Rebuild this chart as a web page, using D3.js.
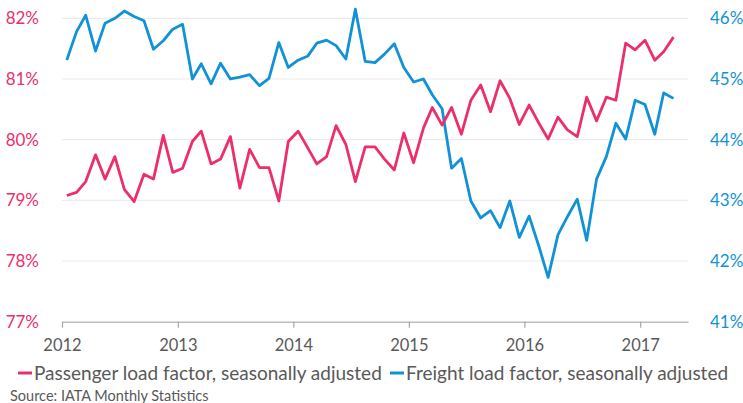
<!DOCTYPE html>
<html lang="en">
  <head>
    <title>Load factors</title>
    <meta charset="utf-8">
    <style>
      body { margin: 0; background: #fff; }
      text { font-family: Lato, "Open Sans", sans-serif; }
    </style>
  </head>
  <body>
<svg width="743" height="403"></svg>
<script src="https://cdnjs.cloudflare.com/ajax/libs/d3/7.8.5/d3.min.js"></script>
<script>

// monthly, Jan 2012 .. Apr 2017
var startYear = 2012, startMonth = 0;
var passenger = [79.08,79.13,79.31,79.75,79.35,79.72,79.18,78.98,79.43,79.35,80.07,79.46,
  79.53,79.97,80.14,79.60,79.68,80.05,79.20,79.84,79.54,79.54,78.99,79.97,
  80.14,79.86,79.60,79.72,80.23,79.92,79.31,79.88,79.88,79.68,79.50,80.11,
  79.62,80.19,80.53,80.24,80.53,80.09,80.65,80.90,80.46,80.97,80.68,80.25,
  80.57,80.27,80.01,80.37,80.16,80.05,80.70,80.31,80.70,80.65,81.59,81.48,
  81.64,81.31,81.45,81.69];
var freight = [45.31,45.78,46.05,45.46,45.92,46.00,46.12,46.03,45.96,45.49,45.63,45.82,
  45.90,45.00,45.25,44.92,45.26,45.00,45.03,45.07,44.89,45.01,45.60,45.19,
  45.31,45.38,45.59,45.64,45.55,45.33,46.15,45.29,45.27,45.41,45.58,45.19,
  44.95,45.00,44.74,44.51,43.53,43.69,42.99,42.71,42.83,42.55,42.99,42.39,
  42.74,42.24,41.73,42.43,42.73,43.02,42.34,43.35,43.72,44.27,44.01,44.65,
  44.58,44.09,44.77,44.68];
var leftTicks = [77,78,79,80,81,82];
var rightTicks = [41,42,43,44,45,46];
var years = [2012,2013,2014,2015,2016,2017];
var seriesNames = ["Passenger load factor, seasonally adjusted", "Freight load factor, seasonally adjusted"];
var source = "Source: IATA Monthly Statistics";

var pink = "#ec2f6b", blue = "#1192d6", grey = "#595959";

var svg = d3.select("svg");
var plotL = 62, plotR = 688, plotT = 18.3, plotB = 321.7;

var x = d3.scaleTime()
    .domain([new Date(2012, 0, 1), new Date(2017, 5, 1)])
    .range([plotL, plotR]);
var yL = d3.scaleLinear().domain([77, 82]).range([plotB, plotT]);
var yR = d3.scaleLinear().domain([41, 46]).range([plotB, plotT]);

function mid(i) { return new Date(startYear, startMonth + i, 16); }

// gridlines
svg.append("g").selectAll("line").data(leftTicks.slice(1)).enter().append("line")
    .attr("x1", plotL).attr("x2", plotR)
    .attr("y1", function(d) { return yL(d); }).attr("y2", function(d) { return yL(d); })
    .attr("stroke", "#ececec").attr("stroke-width", 1.2);

// x axis
var xAxis = svg.append("g").attr("transform", "translate(0," + plotB + ")")
    .call(d3.axisBottom(x)
      .tickValues(years.map(function(y) { return new Date(y, 0, 1); }))
      .tickFormat(d3.timeFormat("%Y"))
      .tickSizeInner(6).tickSizeOuter(0).tickPadding(12));
xAxis.select(".domain").attr("stroke", "#bfbfbf").attr("stroke-width", 1.5);
xAxis.selectAll(".tick line").attr("stroke", "#a6a6a6").attr("stroke-width", 1.2);
xAxis.selectAll(".tick text").attr("fill", grey).attr("font-size", 16.5)
    .attr("font-family", "Lato, sans-serif");

// y axes (labels only)
var gl = svg.append("g").attr("transform", "translate(" + (plotL - 20) + ",0)")
    .call(d3.axisLeft(yL).tickValues(leftTicks).tickFormat(function(d) { return d + "%"; }).tickSize(0));
gl.select(".domain").remove();
gl.selectAll("text").attr("fill", pink).attr("font-size", 17).attr("font-family", "Lato, sans-serif");

var gr = svg.append("g").attr("transform", "translate(" + (plotR + 19) + ",0)")
    .call(d3.axisRight(yR).tickValues(rightTicks).tickFormat(function(d) { return d + "%"; }).tickSize(0));
gr.select(".domain").remove();
gr.selectAll("text").attr("fill", blue).attr("font-size", 17).attr("font-family", "Lato, sans-serif");

// lines
var lineL = d3.line().x(function(d, i) { return x(mid(i)); }).y(function(d) { return yL(d); });
var lineR = d3.line().x(function(d, i) { return x(mid(i)); }).y(function(d) { return yR(d); });

svg.append("path").datum(freight).attr("d", lineR)
    .attr("fill", "none").attr("stroke", blue).attr("stroke-width", 2.8).attr("stroke-linejoin", "round");
svg.append("path").datum(passenger).attr("d", lineL)
    .attr("fill", "none").attr("stroke", pink).attr("stroke-width", 2.8).attr("stroke-linejoin", "round");

// legend
var legendX = [18, 390], colors = [pink, blue];
var lg = svg.append("g").selectAll("g").data(seriesNames).enter().append("g")
    .attr("transform", function(d, i) { return "translate(" + legendX[i] + ",373)"; });
lg.append("line").attr("x1", 0).attr("x2", 14).attr("y1", 0).attr("y2", 0)
    .attr("stroke", function(d, i) { return colors[i]; }).attr("stroke-width", 3);
lg.append("text").attr("x", 16).attr("y", 7).attr("fill", grey).attr("font-size", 19)
    .text(function(d) { return d; });

svg.append("text").attr("x", 10).attr("y", 401).attr("fill", grey).attr("font-size", 14.5)
    .text(source);

</script>
  </body>
</html>
